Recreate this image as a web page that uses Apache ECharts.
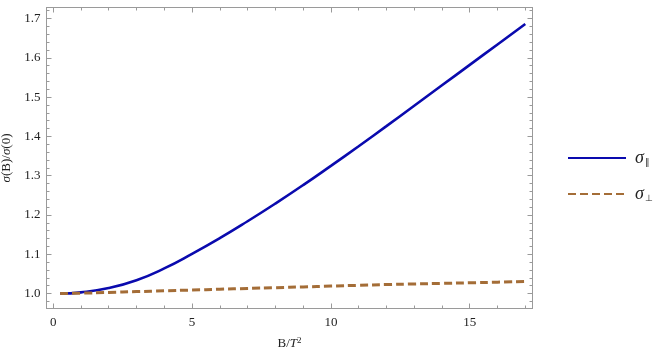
<!DOCTYPE html>
<html><head><meta charset="utf-8">
<script src="https://cdn.jsdelivr.net/npm/echarts@6/dist/echarts.min.js"></script>
<style>html,body{margin:0;padding:0;background:#fff}#c{width:664px;height:353px}</style>
</head><body><div id="c"></div>
<script>
const bValues = [0.25, 1, 2, 3, 4, 5, 6, 7, 8, 9, 10, 11, 12, 13, 14, 15, 16, 17];
const sigmaPar = [1.000, 1.003, 1.014, 1.034, 1.064, 1.101, 1.141, 1.184, 1.229, 1.276, 1.325, 1.375, 1.426, 1.478, 1.530, 1.582, 1.634, 1.686];
const sigmaPerp = [1.000, 1.001, 1.003, 1.005, 1.007, 1.009, 1.011, 1.013, 1.015, 1.017, 1.019, 1.021, 1.023, 1.0245, 1.026, 1.0275, 1.029, 1.031];
const xMajor = [0, 5, 10, 15];
const xMinor = [1, 2, 3, 4, 6, 7, 8, 9, 11, 12, 13, 14, 16, 17];
const yMajor = [1.0, 1.1, 1.2, 1.3, 1.4, 1.5, 1.6, 1.7];
const yMinor = [0.98, 1.02, 1.04, 1.06, 1.08, 1.12, 1.14, 1.16, 1.18, 1.22, 1.24, 1.26, 1.28, 1.32, 1.34, 1.36, 1.38, 1.42, 1.44, 1.46, 1.48, 1.52, 1.54, 1.56, 1.58, 1.62, 1.64, 1.66, 1.68, 1.72];

const FONT = 'Liberation Serif';
const axisCol = '#9a9a9a';
const xr = {min: -0.24, max: 17.26};
const yr = {min: 0.962, max: 1.728};

function xAx(pos, major, showLabel, name) {
  const a = {
    type: 'value', position: pos, min: xr.min, max: xr.max,
    axisLine: {show: true, onZero: false, lineStyle: {color: axisCol, width: 1}},
    axisTick: {show: true, inside: true, length: major ? 5 : 3, customValues: major ? xMajor : xMinor, lineStyle: {color: axisCol}},
    axisLabel: {show: showLabel, customValues: xMajor, fontFamily: FONT, fontSize: 13, color: '#222', margin: 8,
      formatter: v => String(v)},
    splitLine: {show: false}
  };
  if (name) {
    a.name = '{n|B/}{i|T}{sup|2}';
    a.nameLocation = 'middle'; a.nameGap = 28;
    a.nameTextStyle = {rich: {
      n: {fontFamily: FONT, fontSize: 13, color: '#222'},
      i: {fontFamily: FONT, fontSize: 13, fontStyle: 'italic', color: '#222'},
      sup: {fontFamily: FONT, fontSize: 9, color: '#222', verticalAlign: 'top', padding: [0,0,6,0]}
    }};
  }
  return a;
}
function yAx(pos, major, showLabel, name) {
  const a = {
    type: 'value', position: pos, min: yr.min, max: yr.max,
    axisLine: {show: true, onZero: false, lineStyle: {color: axisCol, width: 1}},
    axisTick: {show: true, inside: true, length: major ? 5 : 3, customValues: major ? yMajor : yMinor, lineStyle: {color: axisCol}},
    axisLabel: {show: showLabel, customValues: yMajor, fontFamily: FONT, fontSize: 13, color: '#222', margin: 6,
      formatter: v => v.toFixed(1)},
    splitLine: {show: false}
  };
  if (name) {
    a.name = '{i|σ}{n|(B)/}{i|σ}{n|(0)}';
    a.nameLocation = 'middle'; a.nameGap = 32; a.nameRotate = 90;
    a.nameTextStyle = {rich: {
      n: {fontFamily: FONT, fontSize: 13, color: '#222'},
      i: {fontFamily: FONT, fontSize: 13, fontStyle: 'italic', color: '#222'}
    }};
  }
  return a;
}

const chart = echarts.init(document.getElementById('c'));
chart.setOption({
  animation: false,
  backgroundColor: '#fff',
  grid: {left: 46.5, top: 7.5, width: 486, height: 301, containLabel: false, outerBoundsMode: 'none'},
  xAxis: [xAx('bottom', true, true, true), xAx('bottom', false, false), xAx('top', true, false), xAx('top', false, false)],
  yAxis: [yAx('left', true, true, true), yAx('left', false, false), yAx('right', true, false), yAx('right', false, false)],
  legend: {
    orient: 'vertical', left: 562, top: 144, itemGap: 18,
    itemWidth: 58, itemHeight: 14,
    itemStyle: {opacity: 0},
    data: ['par', 'perp'],
    formatter: n => n === 'par' ? '{s|σ}{sub|∥}' : '{s|σ}{sub|⊥}',
    textStyle: {padding: [0,0,0,4], rich: {
      s: {fontFamily: FONT, fontSize: 18, fontStyle: 'italic', color: '#222'},
      sub: {fontFamily: 'DejaVu Sans', fontSize: 9, color: '#222', verticalAlign: 'bottom', padding: [8,0,0,1]}
    }}
  },
  series: [
    {name: 'par', type: 'line', smooth: true, symbol: 'none', xAxisIndex: 0, yAxisIndex: 0,
     data: bValues.map((b, i) => [b, sigmaPar[i]]),
     lineStyle: {color: '#0a0aae', width: 2.6}, itemStyle: {color: '#0a0aae'}},
    {name: 'perp', type: 'line', smooth: true, symbol: 'none', xAxisIndex: 0, yAxisIndex: 0,
     data: bValues.map((b, i) => [b, sigmaPerp[i]]),
     lineStyle: {color: '#a46d37', width: 3, type: [8, 4]}, itemStyle: {color: '#a46d37'}}
  ]
});
</script></body></html>
